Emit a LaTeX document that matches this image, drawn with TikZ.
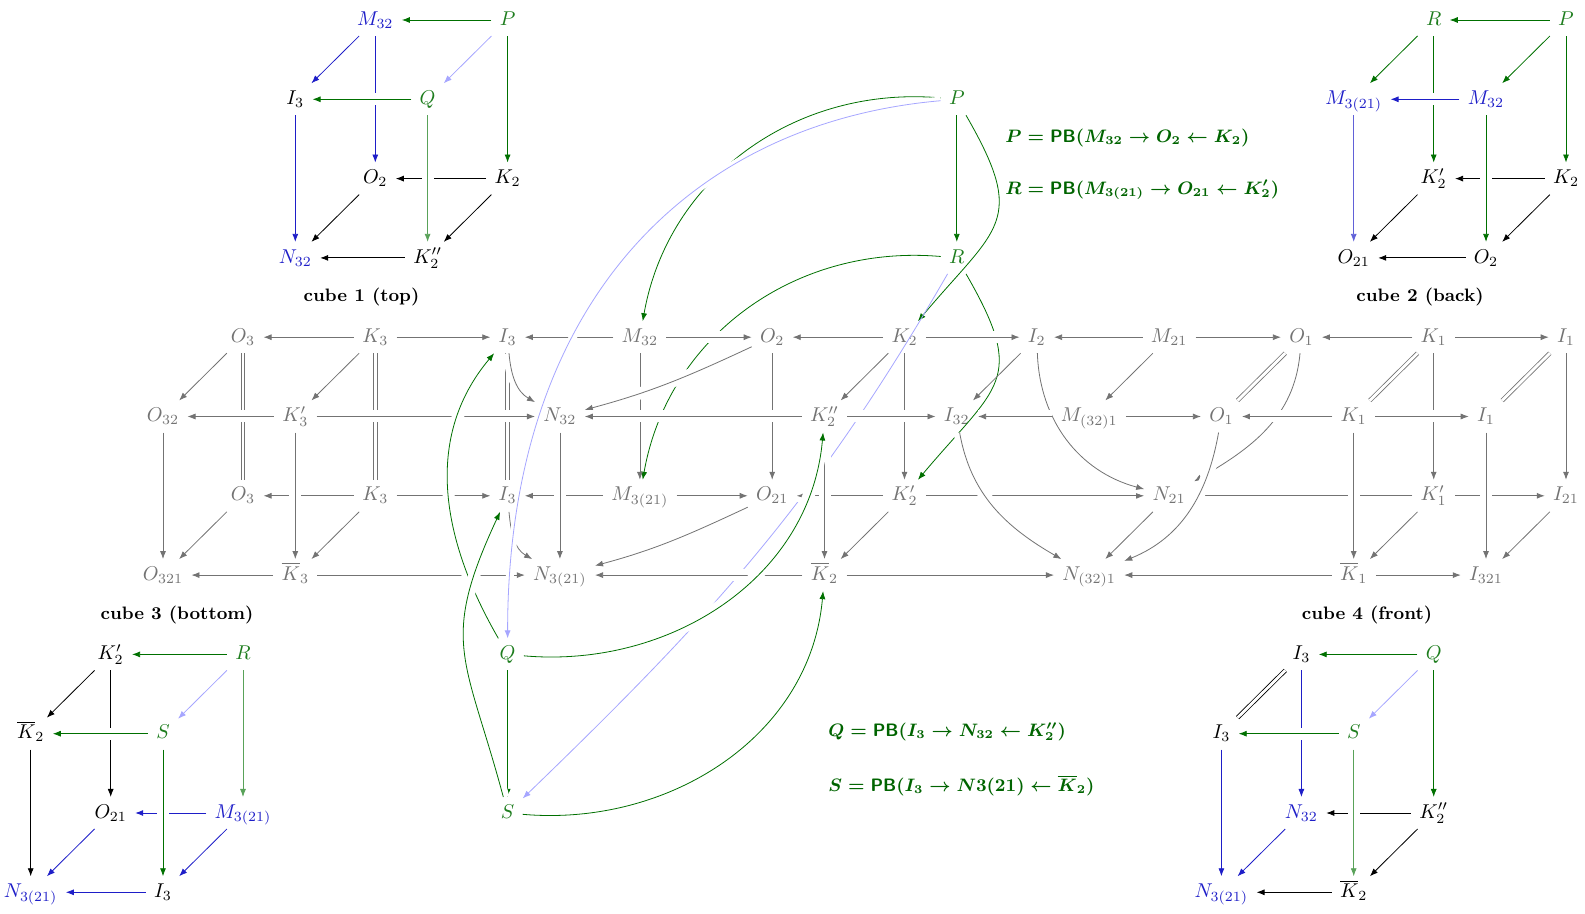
\documentclass[tikz,border=0pt]{standalone}
\usepackage{amsmath, amssymb}
\usepackage{xcolor}
\usetikzlibrary{arrows.meta, positioning, calc}

\definecolor{pbgreen}{RGB}{0,112,0}
\definecolor{eqgreen}{RGB}{0,100,0}
\definecolor{txgreen}{RGB}{30,125,30}
\definecolor{pbblue}{RGB}{30,30,200}
\colorlet{lblue}{blue!35}
\colorlet{gr}{black!55}

\tikzset{
    obj/.style={
        inner xsep=4pt,
        inner ysep=3.5pt,
        text height=1.6ex,
        text depth=0.4ex,
    },
    ghost/.style={obj, text=gr},
    pbnode/.style={obj, text=txgreen},
    bnode/.style={obj, text=pbblue},
    cross/.style={preaction={draw=white, -, line width=6pt}},
    iso/.style={-, double, double distance=1.4pt},
    cubelabel/.style={font=\small\bfseries},
    eqn/.style={anchor=west, inner sep=0pt, text=eqgreen, font=\small\boldmath},
}

\begin{document}
\begin{tikzpicture}[x=0.5pt, y=0.5pt, >={Latex[length=4pt,width=3pt]}]
    \useasboundingbox (0,0) rectangle (1585,-914);

    % cube 1 (top)
    \node[bnode] (tM) at (375.3,-20) {$M_{32}$};
    \node[pbnode] (tP) at (507.6,-20) {$P$};
    \node[obj] (tI) at (295.3,-99.3) {$I_3$};
    \node[pbnode] (tQ) at (427.6,-99.3) {$Q$};
    \node[obj] (tO) at (375.3,-178.6) {$O_2$};
    \node[obj] (tK) at (507.6,-178.6) {$K_2$};
    \node[bnode] (tN) at (295.3,-257.9) {$N_{32}$};
    \node[obj] (tKK) at (427.6,-257.9) {$K''_2$};
    \node[cubelabel] (tlab) at (361.5,-297) {cube 1 (top)};

    \draw[->, pbgreen] (tP) -- (tM);
    \draw[->, pbblue] (tM) -- (tI);
    \draw[->, pbblue] (tM) -- (tO);
    \draw[->, lblue] (tP) -- (tQ);
    \draw[->, pbgreen] (tP) -- (tK);
    \draw[->] (tK) -- (tO);
    \draw[->] (tO) -- (tN);
    \draw[->] (tK) -- (tKK);
    \draw[->, pbgreen, cross] (tQ) -- (tI);
    \draw[->, pbgreen!65, cross] (tQ) -- (tKK);
    \draw[->, pbblue] (tI) -- (tN);
    \draw[->] (tKK) -- (tN);

    % cube 2 (back)
    \node[pbnode] (kR) at (1433.7,-20) {$R$};
    \node[pbnode] (kP) at (1566,-20) {$P$};
    \node[bnode] (kM) at (1353.7,-99.3) {$M_{3(21)}$};
    \node[bnode] (kMM) at (1486,-99.3) {$M_{32}$};
    \node[obj] (kK) at (1433.7,-178.6) {$K'_2$};
    \node[obj] (kKK) at (1566,-178.6) {$K_2$};
    \node[obj] (kO) at (1353.7,-257.9) {$O_{21}$};
    \node[obj] (kOO) at (1486,-257.9) {$O_2$};
    \node[cubelabel] (klab) at (1420,-297) {cube 2 (back)};

    \draw[->, pbgreen] (kP) -- (kR);
    \draw[->, pbgreen] (kR) -- (kM);
    \draw[->, pbgreen] (kP) -- (kMM);
    \draw[->, pbgreen] (kR) -- (kK);
    \draw[->] (kKK) -- (kK);
    \draw[->] (kK) -- (kO);
    \draw[->] (kKK) -- (kOO);
    \draw[->, pbgreen] (kP) -- (kKK);
    \draw[->, pbblue, cross] (kMM) -- (kM);
    \draw[->, pbgreen, cross] (kMM) -- (kOO);
    \draw[->, pbblue!70] (kM) -- (kO);
    \draw[->] (kOO) -- (kO);

    % cube 3 (bottom)
    \node[obj] (bK) at (110.7,-654.4) {$K'_2$};
    \node[pbnode] (bR) at (243,-654.4) {$R$};
    \node[obj] (bKb) at (30.7,-733.7) {$\overline{K}_2$};
    \node[pbnode] (bS) at (163,-733.7) {$S$};
    \node[obj] (bO) at (110.7,-813) {$O_{21}$};
    \node[bnode] (bM) at (243,-813) {$M_{3(21)}$};
    \node[bnode] (bN) at (30.7,-892.3) {$N_{3(21)}$};
    \node[obj] (bI) at (163,-892.3) {$I_3$};
    \node[cubelabel] (blab) at (177,-615) {cube 3 (bottom)};

    \draw[->, pbgreen] (bR) -- (bK);
    \draw[->, lblue] (bR) -- (bS);
    \draw[->] (bK) -- (bKb);
    \draw[->] (bK) -- (bO);
    \draw[->, pbblue] (bM) -- (bO);
    \draw[->, pbgreen!65] (bR) -- (bM);
    \draw[->, pbblue] (bO) -- (bN);
    \draw[->, pbblue] (bM) -- (bI);
    \draw[->, pbgreen, cross] (bS) -- (bKb);
    \draw[->, pbgreen, cross] (bS) -- (bI);
    \draw[->] (bKb) -- (bN);
    \draw[->, pbblue] (bI) -- (bN);

    % cube 4 (front)
    \node[obj] (fI) at (1301.4,-654.4) {$I_3$};
    \node[pbnode] (fQ) at (1433.7,-654.4) {$Q$};
    \node[obj] (fII) at (1221.4,-733.7) {$I_3$};
    \node[pbnode] (fS) at (1353.7,-733.7) {$S$};
    \node[bnode] (fN) at (1301.4,-813) {$N_{32}$};
    \node[obj] (fK) at (1433.7,-813) {$K''_2$};
    \node[bnode] (fNN) at (1221.4,-892.3) {$N_{3(21)}$};
    \node[obj] (fKb) at (1353.7,-892.3) {$\overline{K}_2$};
    \node[cubelabel] (flab) at (1367,-615) {cube 4 (front)};

    \draw[->, pbgreen] (fQ) -- (fI);
    \draw[iso] (fI) -- (fII);
    \draw[->, lblue] (fQ) -- (fS);
    \draw[->, pbblue] (fI) -- (fN);
    \draw[->] (fK) -- (fN);
    \draw[->, pbgreen] (fQ) -- (fK);
    \draw[->, pbblue] (fN) -- (fNN);
    \draw[->] (fK) -- (fKb);
    \draw[->, pbgreen, cross] (fS) -- (fII);
    \draw[->, pbgreen!65, cross] (fS) -- (fKb);
    \draw[->, pbblue] (fII) -- (fNN);
    \draw[->] (fKb) -- (fNN);

    % big diagram
    \node[ghost] (A0) at (243,-337.2) {$O_3$};
    \node[ghost] (A1) at (375.3,-337.2) {$K_3$};
    \node[ghost] (A2) at (507.6,-337.2) {$I_3$};
    \node[ghost] (A3) at (639.9,-337.2) {$M_{32}$};
    \node[ghost] (A4) at (772.2,-337.2) {$O_2$};
    \node[ghost] (A5) at (904.5,-337.2) {$K_2$};
    \node[ghost] (A6) at (1036.8,-337.2) {$I_2$};
    \node[ghost] (A7) at (1169.1,-337.2) {$M_{21}$};
    \node[ghost] (A8) at (1301.4,-337.2) {$O_1$};
    \node[ghost] (A9) at (1433.7,-337.2) {$K_1$};
    \node[ghost] (A10) at (1566,-337.2) {$I_1$};

    \node[ghost] (B0) at (163,-416.5) {$O_{32}$};
    \node[ghost] (B1) at (295.3,-416.5) {$K'_3$};
    \node[ghost] (B3) at (559.9,-416.5) {$N_{32}$};
    \node[ghost] (B5) at (824.5,-416.5) {$K''_2$};
    \node[ghost] (B6) at (956.8,-416.5) {$I_{32}$};
    \node[ghost] (B7) at (1089.1,-416.5) {$M_{(32)1}$};
    \node[ghost] (B8) at (1221.4,-416.5) {$O_1$};
    \node[ghost] (B9) at (1353.7,-416.5) {$K_1$};
    \node[ghost] (B10) at (1486,-416.5) {$I_1$};

    \node[ghost] (C0) at (243,-495.8) {$O_3$};
    \node[ghost] (C1) at (375.3,-495.8) {$K_3$};
    \node[ghost] (C2) at (507.6,-495.8) {$I_3$};
    \node[ghost] (C3) at (639.9,-495.8) {$M_{3(21)}$};
    \node[ghost] (C4) at (772.2,-495.8) {$O_{21}$};
    \node[ghost] (C5) at (904.5,-495.8) {$K'_2$};
    \node[ghost] (C7) at (1169.1,-495.8) {$N_{21}$};
    \node[ghost] (C9) at (1433.7,-495.8) {$K'_1$};
    \node[ghost] (C10) at (1566,-495.8) {$I_{21}$};

    \node[ghost] (D0) at (163,-575.1) {$O_{321}$};
    \node[ghost] (D1) at (295.3,-575.1) {$\overline{K}_3$};
    \node[ghost] (D3) at (559.9,-575.1) {$N_{3(21)}$};
    \node[ghost] (D5) at (824.5,-575.1) {$\overline{K}_2$};
    \node[ghost] (D7) at (1089.1,-575.1) {$N_{(32)1}$};
    \node[ghost] (D9) at (1353.7,-575.1) {$\overline{K}_1$};
    \node[ghost] (D10) at (1486,-575.1) {$I_{321}$};

    \node[pbnode] (P) at (956.8,-99.3) {$P$};
    \node[pbnode] (R) at (956.8,-257.9) {$R$};
    \node[pbnode] (Q) at (507.6,-654.4) {$Q$};
    \node[pbnode] (S) at (507.6,-813) {$S$};

    \node[eqn] (eqP) at (1005,-138) {$P = \mathsf{PB}(M_{32} \to O_2 \leftarrow K_2)$};
    \node[eqn] (eqR) at (1005,-190) {$R = \mathsf{PB}(M_{3(21)} \to O_{21} \leftarrow K'_2)$};
    \node[eqn] (eqQ) at (828,-732) {$Q = \mathsf{PB}(I_3 \to N_{32} \leftarrow K''_2)$};
    \node[eqn] (eqS) at (828,-786) {$S = \mathsf{PB}(I_3 \to N3(21) \leftarrow \overline{K}_2)$};

    % arrows lying under the grey diagram
    \draw[->, pbgreen] (P) to[out=175, in=80] (A3);
    \draw[->, pbgreen] (P) to[out=-60, in=50, looseness=1.5] (A5);
    \draw[->, pbgreen] (R) to[out=175, in=80] (C3);
    \draw[->, pbgreen] (R) to[out=-60, in=50, looseness=1.5] (C5);
    \draw[->, lblue] (R) to[out=-120, in=44] (S);

    % back face
    \draw[->, gr, cross] (A1) -- (A0);
    \draw[->, gr, cross] (A1) -- (A2);
    \draw[->, gr, cross] (A3) -- (A2);
    \draw[->, gr, cross] (A3) -- (A4);
    \draw[->, gr, cross] (A5) -- (A4);
    \draw[->, gr, cross] (A5) -- (A6);
    \draw[->, gr, cross] (A7) -- (A6);
    \draw[->, gr, cross] (A7) -- (A8);
    \draw[->, gr, cross] (A9) -- (A8);
    \draw[->, gr, cross] (A9) -- (A10);
    \draw[->, gr, cross] (C1) -- (C0);
    \draw[->, gr, cross] (C1) -- (C2);
    \draw[->, gr, cross] (C3) -- (C2);
    \draw[->, gr, cross] (C3) -- (C4);
    \draw[->, gr, cross] (C5) -- (C4);
    \draw[->, gr, cross] (C5) -- (C7);
    \draw[->, gr, cross] (C9) -- (C7);
    \draw[->, gr, cross] (C9) -- (C10);
    \draw[gr, iso] (A0) -- (C0);
    \draw[gr, iso] (A1) -- (C1);
    \draw[gr, iso] (A2) -- (C2);
    \draw[->, gr] (A3) -- (C3);
    \draw[->, gr] (A4) -- (C4);
    \draw[->, gr] (A5) -- (C5);
    \draw[->, gr] (A9) -- (C9);
    \draw[->, gr] (A10) -- (C10);
    \draw[->, gr, cross] (A6) to[out=-88, in=165] (C7);
    \draw[->, gr, cross] (A8) to[out=-95, in=30] (C7);

    % diagonals
    \draw[->, gr] (A0) -- (B0);
    \draw[->, gr] (A1) -- (B1);
    \draw[->, gr, cross] (A2) to[out=-85, in=150] (B3);
    \draw[->, gr, cross] (A4) to[out=-155, in=15] (B3);
    \draw[->, gr] (A5) -- (B5);
    \draw[->, gr] (A6) -- (B6);
    \draw[->, gr] (A7) -- (B7);
    \draw[gr, iso] (A8) -- (B8);
    \draw[gr, iso] (A9) -- (B9);
    \draw[gr, iso] (A10) -- (B10);
    \draw[->, gr] (C0) -- (D0);
    \draw[->, gr] (C1) -- (D1);
    \draw[->, gr, cross] (C2) to[out=-85, in=150] (D3);
    \draw[->, gr, cross] (C4) to[out=-155, in=15] (D3);
    \draw[->, gr] (C5) -- (D5);
    \draw[->, gr] (C7) -- (D7);
    \draw[->, gr] (C9) -- (D9);
    \draw[->, gr] (C10) -- (D10);
    \draw[->, gr, cross] (B6) to[out=-80, in=150] (D7);
    \draw[->, gr, cross] (B8) to[out=-100, in=22] (D7);

    % front face
    \draw[->, gr, cross] (B1) -- (B0);
    \draw[->, gr, cross] (B1) -- (B3);
    \draw[->, gr, cross] (B5) -- (B3);
    \draw[->, gr, cross] (B5) -- (B6);
    \draw[->, gr, cross] (B7) -- (B6);
    \draw[->, gr, cross] (B7) -- (B8);
    \draw[->, gr, cross] (B9) -- (B8);
    \draw[->, gr, cross] (B9) -- (B10);
    \draw[->, gr, cross] (D1) -- (D0);
    \draw[->, gr, cross] (D1) -- (D3);
    \draw[->, gr, cross] (D5) -- (D3);
    \draw[->, gr, cross] (D5) -- (D7);
    \draw[->, gr, cross] (D9) -- (D7);
    \draw[->, gr, cross] (D9) -- (D10);
    \draw[->, gr, cross] (B0) -- (D0);
    \draw[->, gr, cross] (B1) -- (D1);
    \draw[->, gr, cross] (B3) -- (D3);
    \draw[->, gr, cross] (B5) -- (D5);
    \draw[->, gr, cross] (B9) -- (D9);
    \draw[->, gr, cross] (B10) -- (D10);

    % pullback arrows on top
    \draw[->, pbgreen] (P) -- (R);
    \draw[->, pbgreen] (Q) -- (S);
    \draw[->, pbgreen, cross] (Q) to[out=120, in=-130] (A2);
    \draw[->, pbgreen, cross] (S) to[out=105, in=-115, looseness=1.3] (C2);
    \draw[->, pbgreen, cross] (Q) to[out=-5, in=-95] (B5);
    \draw[->, pbgreen, cross] (S) to[out=-5, in=-95] (D5);
    \draw[->, lblue, preaction={draw=white, -, line width=4pt}] (P) to[out=185, in=90, out looseness=0.93, in looseness=1.25] (Q);
\end{tikzpicture}
\end{document}
